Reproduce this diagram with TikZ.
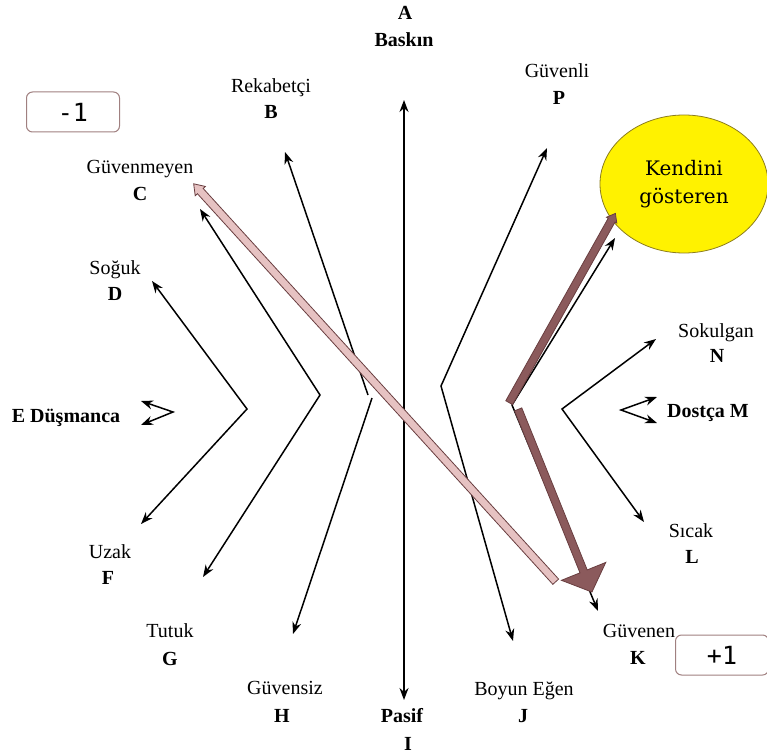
\documentclass[tikz,border=0pt]{standalone}
\usepackage{fontspec}
\setmainfont{Liberation Serif}
\newfontfamily\scorefont{DejaVu Sans Mono}
\newfontfamily\bubblefont{DejaVu Serif}
\usetikzlibrary{arrows.meta,shapes.geometric,shapes.arrows}
\definecolor{traitbrown}{RGB}{139,90,92}
\definecolor{traitedge}{RGB}{105,62,64}
\definecolor{movepink}{RGB}{230,194,194}
\definecolor{boxedge}{RGB}{160,128,128}
\definecolor{bubbleedge}{RGB}{140,125,30}

\begin{document}
\begin{tikzpicture}[
  x=1pt, y=-1pt,
  lbl/.style={anchor=base, inner sep=0pt, font=\fontsize{20}{24}\selectfont},
  key/.style={lbl, font=\fontsize{20}{24}\selectfont\bfseries},
  oneway/.style={draw, line width=1.5pt, -{Stealth[length=12pt,width=9pt]}},
  twoway/.style={oneway, {Stealth[length=12pt,width=9pt]}-{Stealth[length=12pt,width=9pt]}},
  scorebox/.style={rectangle, draw=boxedge, line width=1pt, rounded corners=6pt, minimum width=93pt, minimum height=40pt, font=\scorefont\fontsize{25}{28}\selectfont},
  movearrow/.style={single arrow, draw=traitedge, line width=0.8pt, inner xsep=0pt, anchor=tail, single arrow head indent=0pt}
]
\useasboundingbox (0,0) rectangle (767,754);
\fill[white] (0,0) rectangle (767,754);

% Labels
\node[key] (A) at (405,20) {A};
\node[key] (nA) at (404,47) {Baskın};
\node[lbl] (nB) at (271,93) {Rekabetçi};
\node[key] (B) at (271,119) {B};
\node[lbl] (nC) at (140,173) {Güvenmeyen};
\node[key] (C) at (140,200) {C};
\node[lbl] (nD) at (115,274) {Soğuk};
\node[key] (D) at (115,300) {D};
\node[key] (E) at (66,422) {E Düşmanca};
\node[lbl] (nF) at (110,558) {Uzak};
\node[key] (F) at (108,584) {F};
\node[lbl] (nG) at (170,637) {Tutuk};
\node[key] (G) at (170,665) {G};
\node[lbl] (nH) at (285,694) {Güvensiz};
\node[key] (H) at (282,722) {H};
\node[key] (nI) at (402,722) {Pasif};
\node[key] (I) at (408,750) {I};
\node[lbl] (nJ) at (524,695) {Boyun Eğen};
\node[key] (J) at (523,722) {J};
\node[lbl] (nK) at (639,637) {Güvenen};
\node[key] (K) at (638,664) {K};
\node[lbl] (nL) at (691,537) {Sıcak};
\node[key] (L) at (692,563) {L};
\node[key] (M) at (708,417) {Dostça M};
\node[lbl] (nN) at (716,337) {Sokulgan};
\node[key] (N) at (717,362) {N};
\node[lbl] (nP) at (557,78) {Güvenli};
\node[key] (P) at (559,105) {P};

% Score boxes and bubble
\node[scorebox] (minus) at (73,112) {-1};
\node[scorebox] (plus) at (722,655) {+1};
\node[ellipse, draw=bubbleedge, line width=0.8pt, fill=yellow, minimum width=168pt, minimum height=138pt, inner sep=0pt, align=center, font=\bubblefont\fontsize{20}{28}\selectfont] (Q) at (684,184) {Kendini\\gösteren};

% Arrow ends and bends
\coordinate (tA) at (404,100);
\coordinate (tI) at (404,700);
\coordinate (tD) at (152,281);
\coordinate (vDF) at (247,409);
\coordinate (tF) at (141,524);
\coordinate (tC) at (200,209);
\coordinate (vCG) at (320,395);
\coordinate (tG) at (203,577);
\coordinate (tB) at (285,152);
\coordinate (vB) at (368,395);
\coordinate (vH) at (372,398);
\coordinate (tH) at (293,634);
\coordinate (tP) at (547,148);
\coordinate (vPJ) at (441,386);
\coordinate (tJ) at (513,641);
\coordinate (tQ) at (615,238);
\coordinate (vQK) at (512,405);
\coordinate (tK) at (598,611);
\coordinate (tN) at (656,339);
\coordinate (vNL) at (562,409);
\coordinate (tL) at (644,522);
\coordinate (tE1) at (141,401);
\coordinate (vE) at (173,412);
\coordinate (tE2) at (141,425);
\coordinate (tM1) at (657,397);
\coordinate (vM) at (621,410);
\coordinate (tM2) at (657,423);

% Trait arrows
\draw[twoway] (tA) -- (tI);
\draw[twoway] (tD) -- (vDF) -- (tF);
\draw[twoway] (tC) -- (vCG) -- (tG);
\draw[oneway] (vB) -- (tB);
\draw[oneway] (vH) -- (tH);
\draw[twoway] (tP) -- (vPJ) -- (tJ);
\draw[twoway] (tQ) -- (vQK) -- (tK);
\draw[twoway] (tN) -- (vNL) -- (tL);
\draw[twoway] (tE1) -- (vE) -- (tE2);
\draw[twoway] (tM1) -- (vM) -- (tM2);

% Movement arrows
\coordinate (sC) at (556,582);
\coordinate (sQ) at (509,403);
\coordinate (sK) at (518,409);
\node[movearrow, fill=movepink, inner ysep=3.5pt, single arrow head extend=3pt, single arrow tip angle=70, minimum height=538pt, rotate=132.3] (toC) at (sC) {};
\node[movearrow, fill=traitbrown, inner ysep=3.5pt, single arrow head extend=2pt, single arrow tip angle=75, minimum height=217pt, rotate=60.7] (toQ) at (sQ) {};
\node[movearrow, fill=traitbrown, inner ysep=3.5pt, single arrow head extend=20pt, single arrow tip angle=94, minimum height=197pt, rotate=-68] (toK) at (sK) {};
\end{tikzpicture}
\end{document}
